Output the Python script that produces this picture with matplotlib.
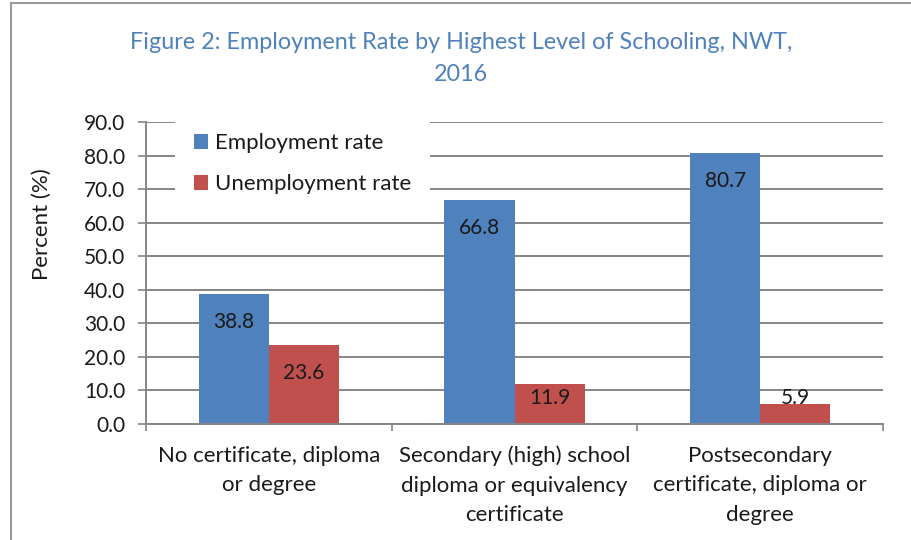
import matplotlib
matplotlib.use("Agg")
import matplotlib.pyplot as plt
from matplotlib.lines import Line2D
import numpy as np

plt.rcParams['font.family'] = ['Lato', 'DejaVu Sans']

categories = ["No certificate, diploma\nor degree",
              "Secondary (high) school\ndiploma or equivalency\ncertificate",
              "Postsecondary\ncertificate, diploma or\ndegree"]
employment = [38.8, 66.8, 80.7]
unemployment = [23.6, 11.9, 5.9]
series_names = ["Employment rate", "Unemployment rate"]
yticks = np.arange(0, 91, 10)
title_lines = ["Figure 2: Employment Rate by Highest Level of Schooling, NWT,", "2016"]

BLUE = "#4F81BD"
RED = "#C0504D"
GRID = "#868686"
TXT = "#1a1a1a"
FS = 16
FSN = 15

fig = plt.figure(figsize=(9.11, 5.40), dpi=100)
ax = fig.add_axes([146/911, 1-424/540, (883-146)/911, (424-122)/540])

x = np.arange(len(categories))
w = 0.285
b1 = ax.bar(x - w/2, employment, w, color=BLUE, label=series_names[0], zorder=2)
b2 = ax.bar(x + w/2, unemployment, w, color=RED, label=series_names[1], zorder=2)

ax.set_xlim(-0.5, len(categories) - 0.5)
ax.set_ylim(0, 90)
ax.set_yticks(yticks)
ax.set_yticklabels([f"{v:.1f}" for v in yticks], fontsize=FSN, color=TXT)
ax.yaxis.grid(True, color=GRID, lw=1.4)
ax.set_axisbelow(True)

ax.set_xticks(x)
ax.set_xticklabels(categories, fontsize=FS, color=TXT, linespacing=1.6)
ax.set_xticks(np.arange(-0.5, len(categories)), minor=True)
ax.tick_params(axis='x', which='major', length=0, pad=15.5)
ax.tick_params(axis='x', which='minor', length=5, width=1.2, color=GRID, direction='out')
ax.tick_params(axis='y', length=5.8, width=1.2, color=GRID, pad=9)

for s in ['top', 'right']:
    ax.spines[s].set_visible(False)
for s in ['left', 'bottom']:
    ax.spines[s].set_color(GRID)
    ax.spines[s].set_linewidth(1.4)

# data labels inside end
ppu = (424 - 122) / 90.0
off = 28 / ppu
floor_y = 7.75
for bars, vals in ((b1, employment), (b2, unemployment)):
    for rect, v in zip(bars, vals):
        ax.text(rect.get_x() + rect.get_width()/2, max(v - off, floor_y), f"{v:.1f}",
                ha='center', va='center', fontsize=FSN, color=TXT, zorder=3)

leg = ax.legend(loc='upper left', bbox_to_anchor=(0.039, 1.025), frameon=True,
                fontsize=FS, handlelength=0.65, handleheight=0.65, handletextpad=0.3,
                labelspacing=0.95, borderpad=0.85, borderaxespad=0, fancybox=False)
leg.get_frame().set_facecolor('white')
leg.get_frame().set_edgecolor('none')
leg.get_frame().set_alpha(1)
leg.set_zorder(5)
for t in leg.get_texts():
    t.set_color(TXT)

fig.text(42/911, 1-224/540, "Percent (%)", rotation=90, ha='center', va='center',
         fontsize=FS, color=TXT)

fig.text(461/911, 1-49/540, title_lines[0], ha='center', va='baseline',
         fontsize=16.8, color="#4F81BD")
fig.text(461/911, 1-81/540, title_lines[1], ha='center', va='baseline',
         fontsize=16.8, color="#4F81BD")

# outer chart border
fig.add_artist(Line2D([11/911, 11/911], [0, 1-3/540], color="#9a9a9a", lw=1.5,
                      transform=fig.transFigure))
fig.add_artist(Line2D([11/911, 1], [1-3/540, 1-3/540], color="#9a9a9a", lw=1.5,
                      transform=fig.transFigure))

fig.savefig("out.png", dpi=100)
